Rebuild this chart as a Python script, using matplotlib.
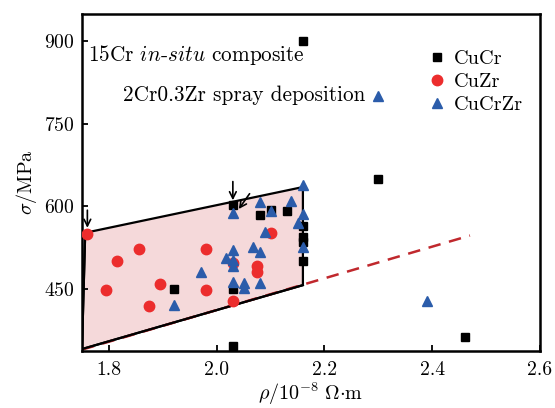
import matplotlib
matplotlib.use("Agg")
import matplotlib.pyplot as plt
from matplotlib.patches import Polygon

plt.rcParams['font.family'] = 'serif'
plt.rcParams['font.serif'] = ['cmr10', 'DejaVu Serif']
plt.rcParams['mathtext.fontset'] = 'cm'
plt.rcParams['axes.unicode_minus'] = False
plt.rcParams['axes.formatter.use_mathtext'] = True

# Data (resistivity in 1e-8 Ohm m, strength in MPa)
cucr_x = [1.92, 2.03, 2.03, 2.03, 2.08, 2.10, 2.13, 2.16, 2.16, 2.16, 2.16, 2.16, 2.30, 2.46]
cucr_y = [450, 450, 347, 602, 585, 593, 591, 565, 545, 535, 500, 900, 650, 363]

cuzr_x = [1.76, 1.855, 1.815, 1.795, 1.895, 1.875, 1.98, 1.98, 2.03, 2.03, 2.075, 2.075, 2.10]
cuzr_y = [550, 523, 500, 449, 459, 419, 523, 449, 429, 497, 491, 481, 551]

cucrzr_x = [1.92, 1.97, 2.03, 2.03, 2.03, 2.03, 2.018, 2.03, 2.05, 2.05, 2.068, 2.08, 2.08,
            2.08, 2.10, 2.09, 2.138, 2.15, 2.16, 2.16, 2.16, 2.39, 2.30]
cucrzr_y = [421, 480, 587, 521, 503, 491, 507, 463, 460, 451, 527, 517, 460,
            607, 591, 554, 609, 569, 638, 586, 527, 428, 800]

legend_labels = ["CuCr", "CuZr", "CuCrZr"]
region_x = [1.75, 1.756, 2.16, 2.16]
region_y = [341, 552, 635, 457]
trend_x = [1.75, 2.47]
trend_y = [340, 547]
note_labels = ["15Cr $in$-$situ$ composite", "2Cr0.3Zr spray deposition"]
x_ticks = [1.8, 2.0, 2.2, 2.4, 2.6]
y_ticks = [450, 600, 750, 900]

fig = plt.figure(figsize=(5.55, 4.08), dpi=100)
ax = fig.add_axes([0.1477, 0.1397, 0.8253, 0.8260])

red = '#ec2d2d'
blue = '#2b5caa'

poly = Polygon(list(zip(region_x, region_y)), closed=True, facecolor='#f5d9da',
               edgecolor='black', linewidth=1.6, zorder=1)
ax.add_patch(poly)
ax.plot(trend_x, trend_y, linestyle=(0, (5, 3.5)), color='#c0282d', linewidth=1.8, zorder=1.5)
ax.plot(region_x[:2], region_y[:2], color='black', linewidth=1.6, zorder=2)
ax.plot([region_x[0], region_x[3]], [region_y[0], region_y[3]], color='black', linewidth=1.6, zorder=2)

ax.plot(cucr_x, cucr_y, 's', color='black', markersize=6.2, linestyle='none', label=legend_labels[0], zorder=3)
ax.plot(cuzr_x, cuzr_y, 'o', color=red, markersize=7.5, linestyle='none', label=legend_labels[1], zorder=3)
ax.plot(cucrzr_x, cucrzr_y, '^', color=blue, markersize=7.8, linestyle='none', label=legend_labels[2], zorder=4)

arrow_kw = dict(arrowstyle='->', color='black', lw=1.2, mutation_scale=12)
ax.annotate('', xy=(1.76, 556), xytext=(1.76, 598), arrowprops=arrow_kw, zorder=5)
ax.annotate('', xy=(2.03, 606), xytext=(2.03, 650), arrowprops=arrow_kw, zorder=5)
ax.annotate('', xy=(2.038, 591), xytext=(2.064, 627), arrowprops=arrow_kw, zorder=5)

ax.text(1.761, 874, note_labels[0], fontsize=15.3, va='center', ha='left')
ax.text(1.826, 801, note_labels[1], fontsize=15.3, va='center', ha='left')

ax.set_xlim(1.75, 2.6)
ax.set_ylim(337.5, 949)
ax.set_xticks(x_ticks)
ax.set_xticklabels([f"{t:.1f}" for t in x_ticks])
ax.set_yticks(y_ticks)
ax.tick_params(direction='in', length=4, width=1.3, labelsize=14.2,
               top=False, right=False)
ax.tick_params(axis='x', pad=7)
ax.tick_params(axis='y', pad=5)
for s in ax.spines.values():
    s.set_linewidth(1.8)

ax.set_xlabel(r'$\rho/10^{-8}\ \Omega{\cdot}\mathrm{m}$', fontsize=14.5, labelpad=1)
ax.set_ylabel(r'$\sigma/\mathrm{MPa}$', fontsize=14.5, labelpad=4)

leg = ax.legend(loc='upper right', frameon=False, fontsize=14.7, handletextpad=0.35,
                handlelength=1.0, borderaxespad=0.3, labelspacing=0.22,
                bbox_to_anchor=(0.995, 0.935))

fig.savefig('out.png', dpi=100)
